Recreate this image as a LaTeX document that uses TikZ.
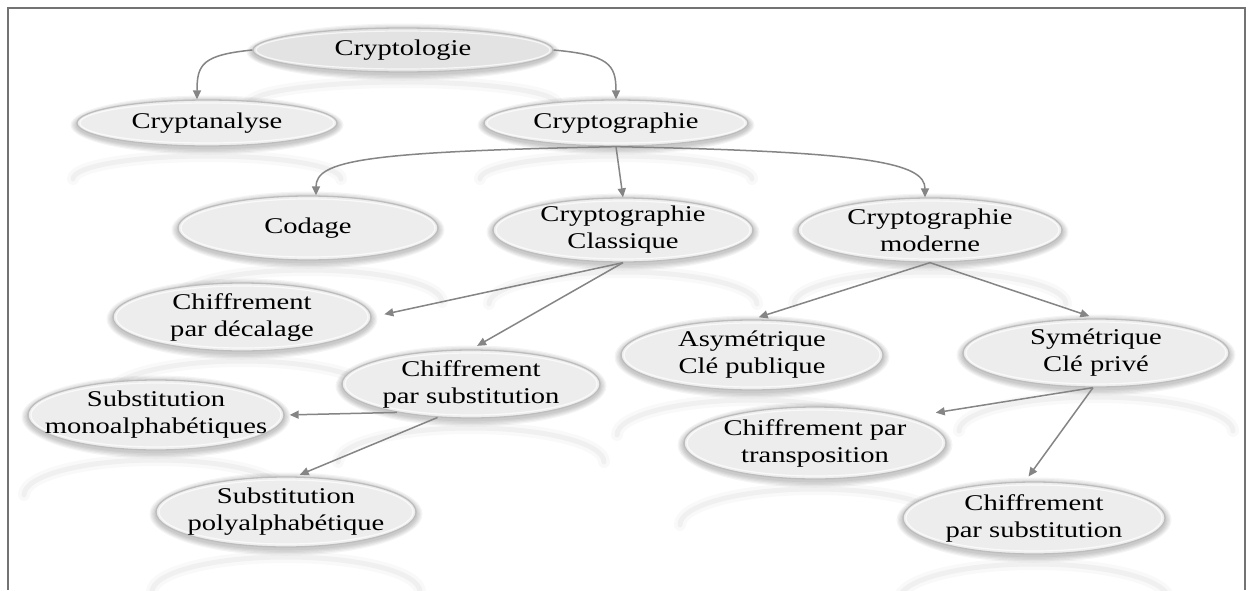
\documentclass[tikz,border=0pt]{standalone}
\usepackage{fontspec}
\setmainfont{Liberation Serif}[FakeStretch=1.27]
\usetikzlibrary{arrows.meta,shapes.geometric}
\pgfdeclarelayer{back}
\pgfsetlayers{back,main}
\tikzset{
  bub/.style={ellipse, inner sep=0pt, draw=gray!52, line width=1.3pt, fill=gray!14},
  lbl/.style={align=center, inner sep=0pt, font=\fontsize{22.5}{27}\selectfont, text=black},
  link/.style={draw=black!48, line width=1.5pt, -{Triangle[length=9pt,width=8pt]}},
  frame/.style={draw=black!55, line width=2.5pt},
  glow/.style={black, line cap=round},
}
% \bubble[extra style]{name}{x}{y}{x radius}{y radius}{text}
\newcommand\bubble[7][]{%
  \begin{pgfonlayer}{back}
    % soft mirrored glow under the bubble (upper arc only)
    \draw[glow, opacity=.025, line width=12pt] (#3-#5-4,#4+2*#6+10)
      arc [start angle=180, end angle=360, x radius=#5+4, y radius=#6];
    \draw[glow, opacity=.035, line width=5pt] (#3-#5-4,#4+2*#6+10)
      arc [start angle=180, end angle=360, x radius=#5+4, y radius=#6];
  \end{pgfonlayer}
  \foreach \k in {5,4,3,2,1}{%
    \fill[black, opacity=.045] (#3,#4+2) ellipse [x radius=#5+1.3*\k, y radius=#6+1.3*\k];}
  \node[bub, minimum width={2*#5pt}, minimum height={2*#6pt}, #1] (#2) at (#3,#4) {};
  \draw[white, opacity=.7, line width=1.2pt] (#3,#4) ellipse [x radius=#5-3, y radius=#6-3];
  \node[lbl] (#2-t) at (#2) {#7};
}
\begin{document}
\begin{tikzpicture}[x=1pt, y=-1pt]
  \useasboundingbox (0,0) rectangle (1248,590);
  \begin{pgfonlayer}{back}
    \fill[white] (0,0) rectangle (1248,590);
  \end{pgfonlayer}

  % tree nodes
  \bubble[fill=gray!22]{cryptologie}{403}{50}{150}{22}{Cryptologie}
  \bubble{cryptanalyse}{207}{123}{130}{23}{Cryptanalyse}
  \bubble{cryptographie}{616}{123}{132}{23}{Cryptographie}
  \bubble{codage}{308}{228}{130}{32}{Codage}
  \bubble{classique}{623}{230}{130}{32}{Cryptographie\\Classique}
  \bubble{moderne}{930}{230}{132}{32}{Cryptographie\\moderne}
  \bubble{decalage}{242}{317}{129}{34}{Chiffrement\\par décalage}
  \bubble{subst1}{471}{384}{129}{34}{Chiffrement\\par substitution}
  \bubble{mono}{156}{415}{128}{35}{Substitution\\monoalphabétiques}
  \bubble{poly}{286}{512}{130}{35}{Substitution\\polyalphabétique}
  \bubble{asym}{752}{355}{131}{35}{Asymétrique\\Clé publique}
  \bubble{sym}{1096}{353}{133}{34}{Symétrique\\Clé privé}
  \bubble{transpo}{815}{443}{131}{36}{Chiffrement par\\transposition}
  \bubble{subst2}{1034}{518}{131}{36}{Chiffrement\\par substitution}

  % connectors
  \draw[link] (cryptologie.west) .. controls +(-50,5) and +(0,-35) .. ([xshift=-10pt]cryptanalyse.north);
  \draw[link] (cryptologie.east) .. controls +(55,5) and +(0,-35) .. (cryptographie.north);
  \draw[link] (cryptographie.south) .. controls +(-250,5) and +(0,-35) .. ([xshift=8pt]codage.north);
  \draw[link] (cryptographie.south) -- (classique.north);
  \draw[link] (cryptographie.south) .. controls +(250,5) and +(0,-35) .. ([xshift=-5pt]moderne.north);
  \draw[link, shorten >=13pt] (classique.south) -- (decalage.east);
  \draw[link, shorten >=7pt] (classique.south) -- (subst1.north);
  \draw[link, shorten >=5pt] (subst1.201) -- (mono.east);
  \draw[link, shorten >=4pt] (subst1.225) -- ([xshift=10pt]poly.north);
  \draw[link, shorten >=7pt] (moderne.south) -- (asym.north);
  \draw[link, shorten >=7pt] (moderne.south) -- (sym.north);
  \draw[link, shorten >=28pt] (sym.265) -- (transpo.north east);
  \draw[link, shorten >=6pt] (sym.265) -- ([xshift=-9pt]subst2.north);

  % open frame
  \draw[frame] (8,590) -- (8,8) -- (1245,8) -- (1245,590);
\end{tikzpicture}
\end{document}
